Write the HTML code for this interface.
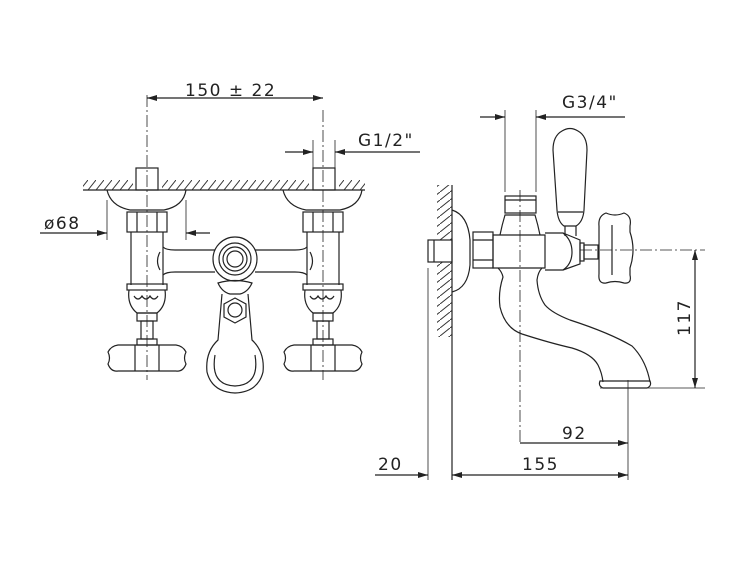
<!DOCTYPE html>
<html><head><meta charset="utf-8"><style>
html,body{margin:0;padding:0;background:#fff;}
svg{display:block}
text{font-family:"DejaVu Sans","Liberation Sans",sans-serif;font-size:17px;fill:#222;letter-spacing:1.5px}
</style></head><body>
<svg width="750" height="563" viewBox="0 0 750 563" xmlns="http://www.w3.org/2000/svg">
<defs>
<marker id="a" viewBox="0 0 10 6" refX="10" refY="3" markerWidth="10" markerHeight="6" orient="auto-start-reverse" markerUnits="userSpaceOnUse"><path d="M0,0 L10,3 L0,6z" fill="#222"/></marker>
<pattern id="h" width="8" height="10" patternUnits="userSpaceOnUse"><path d="M0,10 L8,0" stroke="#333" stroke-width="1"/></pattern>
<pattern id="hv" width="10" height="8" patternUnits="userSpaceOnUse"><path d="M0,8 L10,0" stroke="#333" stroke-width="1"/></pattern>
</defs>
<g fill="none" stroke="#222" stroke-width="1.2">
<!-- LEFT VIEW -->
<rect x="83" y="180" width="50" height="10" fill="url(#h)" stroke="none"/>
<rect x="162" y="180" width="147" height="10" fill="url(#h)" stroke="none"/>
<rect x="339" y="180" width="26" height="10" fill="url(#h)" stroke="none"/>
<line x1="83" y1="190" x2="365" y2="190"/>
<line x1="147" y1="95" x2="147" y2="380" stroke-dasharray="12,3,2,3" stroke-width="0.8"/>
<line x1="323" y1="110" x2="323" y2="380" stroke-dasharray="12,3,2,3" stroke-width="0.8"/>
<line x1="313" y1="140" x2="313" y2="170" stroke-width="0.8"/>
<line x1="335" y1="140" x2="335" y2="170" stroke-width="0.8"/>
<line x1="147" y1="98" x2="323" y2="98" marker-start="url(#a)" marker-end="url(#a)"/>
<line x1="285" y1="152" x2="313" y2="152" marker-end="url(#a)"/>
<line x1="335" y1="152" x2="420" y2="152" marker-start="url(#a)"/>
<rect x="136" y="168" width="22" height="22"/><rect x="313" y="168" width="22" height="22"/>
<path d="M107,190 C110,203 120,208 130,210 L164,210 C174,208 184,203 186,190"/>
<path d="M283,190 C286,203 296,208 306,210 L340,210 C350,208 360,203 362,190"/>
<rect x="127" y="212" width="40" height="20"/><line x1="137" y1="212" x2="137" y2="232"/><line x1="157" y1="212" x2="157" y2="232"/>
<rect x="303" y="212" width="40" height="20"/><line x1="313" y1="212" x2="313" y2="232"/><line x1="333" y1="212" x2="333" y2="232"/>
<line x1="107" y1="200" x2="107" y2="240" stroke-width="0.8"/><line x1="186" y1="200" x2="186" y2="240" stroke-width="0.8"/>
<line x1="40" y1="233" x2="107" y2="233" marker-end="url(#a)"/>
<line x1="210" y1="233" x2="186" y2="233" marker-end="url(#a)"/>
<path d="M131,232 L131,285 M163,232 L163,285"/>
<path d="M307,232 L307,285 M339,232 L339,285"/>
<path d="M163,247 Q166,250 175,250 L215,250 M255,250 L295,250 Q304,250 307,247"/>
<path d="M163,275 Q166,272 175,272 L215,272 M255,272 L295,272 Q304,272 307,275"/>
<path d="M160,252 Q155,261 160,270 M310,252 Q315,261 310,270"/>
<circle cx="235" cy="259" r="22"/><circle cx="235" cy="259" r="16"/><circle cx="235" cy="259" r="12"/><circle cx="235" cy="259" r="8"/>
<g id="lf">
<rect x="127" y="284" width="40" height="6"/>
<path d="M129,290 Q127,305 137,313 L157,313 Q167,305 165,290"/>
<path d="M134,296 q4,6 8,0 q4,6 8,0 q4,6 8,0"/>
<rect x="137" y="313" width="20" height="8"/>
<rect x="141" y="321" width="12" height="18"/>
<rect x="137" y="339" width="20" height="6"/>
<path d="M118,345 L176,345 Q183,346 186,352 Q183,358 186,364 Q183,372 176,371 L118,371 Q111,372 108,364 Q111,358 108,352 Q111,346 118,345Z"/>
<line x1="135" y1="345" x2="135" y2="371"/><line x1="159" y1="345" x2="159" y2="371"/>
</g>
<use href="#lf" x="176"/>
<path d="M218,283 Q235,278 252,283 Q248,292 240,294 L230,294 Q222,292 218,283Z"/>
<path d="M222,294 L218,340 Q205,352 207,372 Q212,392 235,393 Q258,392 263,372 Q265,352 252,340 L248,294"/>
<path d="M215,355 Q210,385 235,386 Q260,385 255,355"/>
<polygon points="235,298 246,304 246,317 235,323 224,317 224,304"/>
<circle cx="235" cy="310" r="7"/>
<!-- RIGHT VIEW -->
<rect x="437" y="185" width="15" height="55" fill="url(#hv)" stroke="none"/>
<rect x="437" y="262" width="15" height="75" fill="url(#hv)" stroke="none"/>
<line x1="452" y1="185" x2="452" y2="480"/>
<rect x="428" y="240" width="24" height="22"/><line x1="434" y1="240" x2="434" y2="262"/>
<path d="M452,210 Q468,215 470,240 L470,265 Q468,288 452,292"/>
<rect x="473" y="232" width="20" height="36"/><line x1="473" y1="240" x2="493" y2="240"/><line x1="473" y1="260" x2="493" y2="260"/>
<path d="M493,235 L545,235 L545,268 L493,268Z"/>
<path d="M500,235 Q502,225 505,215 L535,215 Q538,225 540,235"/>
<rect x="505" y="196" width="31" height="17"/><line x1="505" y1="200" x2="536" y2="200"/>
<!-- spout -->
<path d="M498,268 Q502,272 503,277 Q498,292 500,307 Q505,328 522,334 Q550,343 572,348 Q592,354 598,365 Q602,373 603,382"/>
<path d="M542,268 Q538,272 537,280 Q538,295 545,305 Q552,313 570,320 Q610,333 632,346 Q646,360 650,382"/>
<path d="M600,381 L650,381 Q652,386 647,388 L603,388 Q598,386 600,381Z"/>
<line x1="520" y1="190" x2="520" y2="445" stroke-dasharray="12,3,2,3" stroke-width="0.8"/>
<line x1="580" y1="250" x2="705" y2="250" stroke-dasharray="12,3,2,3" stroke-width="0.8"/>
<!-- lever handle -->
<path d="M562,131 Q570,126 578,131 Q587,136 587,150 L584,210 Q583,222 576,226 L564,226 Q558,222 557,210 L553,150 Q553,136 562,131Z"/>
<path d="M558,212 L583,212"/>
<path d="M565,226 L565,236 M576,226 L576,236"/>
<!-- right valve -->
<path d="M545,233 L563,233 Q572,240 572,252 Q572,264 563,270 L545,270"/>
<path d="M563,233 L580,240 L580,264 L563,270"/>
<rect x="580" y="243" width="4" height="18"/>
<rect x="584" y="245" width="14" height="14"/>
<path d="M606,213 Q615,217 624,213 Q632,216 630,226 L630,232 Q636,250 630,268 L630,275 Q632,284 624,283 Q615,280 606,283 Q598,284 599,274 L599,226 Q598,216 606,213Z"/>
<line x1="612" y1="225" x2="612" y2="275"/>
<line x1="505" y1="110" x2="505" y2="192" stroke-width="0.8"/><line x1="536" y1="110" x2="536" y2="192" stroke-width="0.8"/>
<line x1="480" y1="117" x2="505" y2="117" marker-end="url(#a)"/>
<line x1="625" y1="117" x2="536" y2="117" marker-end="url(#a)"/>
<line x1="600" y1="388" x2="705" y2="388" stroke-width="0.8"/>
<line x1="695" y1="250" x2="695" y2="388" marker-start="url(#a)" marker-end="url(#a)"/>
<line x1="628" y1="380" x2="628" y2="480" stroke-width="0.8"/>
<line x1="520" y1="443" x2="628" y2="443" marker-end="url(#a)"/>
<line x1="428" y1="268" x2="428" y2="480" stroke-width="0.8"/>
<line x1="375" y1="475" x2="428" y2="475" marker-end="url(#a)"/>
<line x1="452" y1="475" x2="628" y2="475" marker-start="url(#a)" marker-end="url(#a)"/>
</g>
<text x="185" y="96">150 ± 22</text>
<text x="358" y="146">G1/2"</text>
<text x="44" y="229">ø68</text>
<text x="562" y="108">G3/4"</text>
<text x="562" y="439">92</text>
<text x="378" y="470">20</text>
<text x="522" y="470">155</text>
<text transform="translate(690,336) rotate(-90)">117</text>
</svg>
</body></html>
